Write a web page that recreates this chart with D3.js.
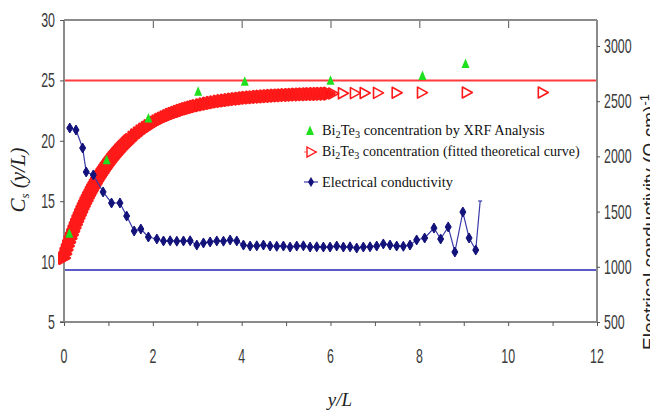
<!DOCTYPE html>
<html><head><meta charset="utf-8">
<script src="https://cdn.jsdelivr.net/npm/d3@7"></script>
<style>body{margin:0;background:#fff}</style>
</head><body>
<svg id="chart" width="650" height="412"></svg>
<script>
// ---------- data ----------
const xTickValues = [0, 2, 4, 6, 8, 10, 12];
const xMinorTickValues = [0, 1, 2, 3, 4, 5, 6, 7, 8, 9, 10, 11, 12];
const leftTickValues = [5, 10, 15, 20, 25, 30];
const rightTickValues = [500, 1000, 1500, 2000, 2500, 3000];

const xrfX = [0.12, 0.96, 1.90, 3.02, 4.07, 6.00, 8.07, 9.04];
const xrfY = [12.3, 18.4, 21.85, 24.06, 24.89, 24.98, 25.36, 26.36];

const fitX = [0.00, 0.03, 0.06, 0.09, 0.12, 0.15, 0.18, 0.21, 0.24, 0.27, 0.30, 0.33, 0.36, 0.39, 0.42, 0.45, 0.48,
  0.51, 0.54, 0.57, 0.60, 0.63, 0.66, 0.69, 0.72, 0.75, 0.78, 0.81, 0.84, 0.87, 0.90, 0.93, 0.96, 0.99,
  1.02, 1.05, 1.08, 1.11, 1.14, 1.17, 1.20, 1.23, 1.26, 1.29, 1.32, 1.35, 1.38, 1.41, 1.44, 1.47, 1.50,
  1.56, 1.62, 1.68, 1.74, 1.80, 1.86, 1.92, 1.98,
  2.04, 2.10, 2.16, 2.22, 2.28, 2.34, 2.40, 2.46, 2.52, 2.58, 2.64, 2.70, 2.76, 2.82, 2.88, 2.94, 3.00,
  3.08, 3.16, 3.24, 3.32, 3.40, 3.48, 3.56, 3.64, 3.72, 3.80, 3.88, 3.96, 4.04, 4.12, 4.20, 4.28, 4.36,
  4.44, 4.52, 4.60, 4.68, 4.76, 4.84, 4.92, 5.00, 5.08, 5.16, 5.24, 5.32, 5.40, 5.48, 5.56, 5.64, 5.72,
  5.80, 5.88, 5.96, 6.06, 6.28, 6.55, 6.77, 7.07, 7.49, 8.06, 9.07, 10.78];
const fitY = [10.30, 10.64, 10.97, 11.29, 11.60, 11.91, 12.21, 12.50, 12.78, 13.06, 13.33, 13.59, 13.85, 14.10, 14.35, 14.58, 14.82,
  15.04, 15.26, 15.48, 15.69, 15.90, 16.10, 16.29, 16.48, 16.67, 16.85, 17.02, 17.20, 17.36, 17.53, 17.69, 17.84, 18.00,
  18.14, 18.29, 18.43, 18.57, 18.70, 18.83, 18.96, 19.08, 19.21, 19.32, 19.44, 19.55, 19.66, 19.77, 19.87, 19.98, 20.07,
  20.27, 20.45, 20.62, 20.79, 20.94, 21.09, 21.23, 21.37,
  21.50, 21.62, 21.74, 21.85, 21.95, 22.05, 22.15, 22.24, 22.32, 22.40, 22.48, 22.56, 22.63, 22.69, 22.76, 22.82, 22.88,
  22.95, 23.02, 23.08, 23.14, 23.19, 23.25, 23.29, 23.34, 23.38, 23.42, 23.46, 23.49, 23.53, 23.56, 23.59, 23.61, 23.64,
  23.66, 23.68, 23.70, 23.72, 23.74, 23.76, 23.77, 23.79, 23.80, 23.81, 23.83, 23.84, 23.85, 23.86, 23.87, 23.88, 23.88,
  23.89, 23.90, 23.91, 23.92, 23.93, 23.95, 23.96, 23.97, 23.98, 23.99, 24.00, 24.00];

const condX = [0.13, 0.27, 0.42, 0.50, 0.66, 0.88, 1.07, 1.26, 1.41, 1.58, 1.73, 1.90, 2.09, 2.24, 2.39, 2.54, 2.69, 2.84,
  2.99, 3.14, 3.29, 3.44, 3.59, 3.74, 3.89, 4.04, 4.19, 4.34, 4.49, 4.64, 4.79, 4.94, 5.09, 5.24, 5.39, 5.54, 5.69, 5.84,
  5.99, 6.14, 6.29, 6.44, 6.59, 6.74, 6.89, 7.04, 7.19, 7.34, 7.49, 7.64, 7.79, 7.94, 8.12, 8.33, 8.48, 8.65, 8.80, 8.98,
  9.12, 9.27, 9.37];
const condY = [2257, 2239, 2076, 1859, 1832, 1678, 1578, 1578, 1460, 1324, 1342, 1270, 1252, 1234, 1236, 1232, 1234, 1236,
  1197, 1216, 1225, 1234, 1232, 1243, 1234, 1197, 1188, 1190, 1197, 1188, 1186, 1188, 1179, 1188, 1190, 1179, 1181, 1179,
  1179, 1188, 1179, 1181, 1170, 1179, 1181, 1188, 1207, 1197, 1188, 1186, 1197, 1243, 1261, 1351, 1252, 1361, 1134, 1496,
  1261, 1152, 1596];

const upperLineValue = 25;
const lowerLineValue = 9.3;

const legendLabels = [
  ["Bi", "2", "Te", "3", " concentration by XRF Analysis"],
  ["Bi", "2", "Te", "3", " concentration (fitted theoretical curve)"],
  ["Electrical conductivity"]
];

// ---------- chart ----------
const svg = d3.select("#chart");
const x = d3.scaleLinear().domain([0, 12]).range([64, 597]);
const yL = d3.scaleLinear().domain([5, 30]).range([322, 20]);
const yR = d3.scaleLinear().domain([500, 3000]).range([322, 46]);

const axisGray = "#8a8a8a";
const narrow = "'Liberation Sans', Arial, sans-serif";

// reference lines
svg.append("line").attr("x1", x(0)).attr("x2", x(12)).attr("y1", yL(upperLineValue)).attr("y2", yL(upperLineValue))
  .attr("stroke", "#ff3b3b").attr("stroke-width", 2);
svg.append("line").attr("x1", x(0)).attr("x2", x(12)).attr("y1", yL(lowerLineValue)).attr("y2", yL(lowerLineValue))
  .attr("stroke", "#5a5ac8").attr("stroke-width", 2);

// axes
const gB = svg.append("g").attr("transform", `translate(0,${yL(5)})`)
  .call(d3.axisBottom(x).tickValues(xMinorTickValues).tickSize(4).tickFormat(""));
const gT = svg.append("g").attr("transform", `translate(0,${yL(30)})`)
  .call(d3.axisBottom(x).tickValues(xTickValues).tickSize(8).tickFormat(""));
const gL = svg.append("g").attr("transform", `translate(${x(0)},0)`)
  .call(d3.axisLeft(yL).tickValues(leftTickValues).tickSize(4).tickFormat(""));
const gR = svg.append("g").attr("transform", `translate(${x(12)},0)`)
  .call(d3.axisRight(yR).tickValues(rightTickValues).tickSize(3).tickFormat(""));
[gB, gT, gL, gR].forEach(g => {
  g.select(".domain").attr("stroke", axisGray).attr("stroke-width", 2);
  g.selectAll(".tick line").attr("stroke", "#555").attr("stroke-width", 1);
});
gT.select(".domain").remove();
gR.select(".domain").attr("d", `M0,${yL(30)}V${yL(5)}`);
gL.select(".domain").attr("d", `M0,${yL(30)}V${yL(5)}`);
gB.select(".domain").attr("d", `M${x(0) - 4},0H${x(12)}`);
svg.append("line").attr("x1", x(0)).attr("x2", x(12)).attr("y1", yL(30)).attr("y2", yL(30))
  .attr("stroke", axisGray).attr("stroke-width", 2);

// tick labels (condensed look)
const sx = 0.62;
xTickValues.forEach(v => {
  svg.append("text").attr("transform", `translate(${x(v)},363) scale(${sx},1)`)
    .attr("text-anchor", "middle").attr("font-family", narrow).attr("font-size", 20).attr("fill", "#3a3a3a").text(v);
});
leftTickValues.forEach(v => {
  svg.append("text").attr("transform", `translate(55,${yL(v) + 7}) scale(${sx},1)`)
    .attr("text-anchor", "end").attr("font-family", narrow).attr("font-size", 20).attr("fill", "#3a3a3a").text(v);
});
rightTickValues.forEach(v => {
  svg.append("text").attr("transform", `translate(604,${yR(v) + 7}) scale(${sx},1)`)
    .attr("text-anchor", "start").attr("font-family", narrow).attr("font-size", 20).attr("fill", "#3a3a3a").text(v);
});

// fitted curve markers (right-pointing triangles; dense ones merge into a solid band)
const triRight = "M-4.5,-5.5L5.5,0L-4.5,5.5Z";
svg.append("g").selectAll("path").data(fitX.map((d, i) => [d, fitY[i]])).join("path")
  .attr("d", triRight).attr("transform", d => `translate(${x(d[0])},${yL(d[1])})`)
  .attr("fill", d => d[0] < 6 ? "#ff1010" : "none").attr("stroke", "#ff1a1a")
  .attr("stroke-width", d => d[0] < 6 ? 3 : 1.6).attr("stroke-linejoin", "round");

// conductivity line + markers
const condData = condX.map((d, i) => [d, condY[i]]);
svg.append("path").datum(condData)
  .attr("d", d3.line().x(d => x(d[0])).y(d => yR(d[1])))
  .attr("fill", "none").attr("stroke", "#3a3aa8").attr("stroke-width", 1.2);
const diamond = "M0,-5L3,0L0,5L-3,0Z";
svg.append("g").selectAll("path").data(condData.slice(0, -1)).join("path")
  .attr("d", diamond).attr("transform", d => `translate(${x(d[0])},${yR(d[1])})`)
  .attr("fill", "#12127a").attr("stroke", "#12127a").attr("stroke-width", 1);
const last = condData[condData.length - 1];
svg.append("line").attr("x1", x(last[0]) - 2).attr("x2", x(last[0]) + 2)
  .attr("y1", yR(last[1])).attr("y2", yR(last[1])).attr("stroke", "#3a3aa8").attr("stroke-width", 1.2);

// XRF green triangles
svg.append("g").selectAll("path").data(xrfX.map((d, i) => [d, xrfY[i]])).join("path")
  .attr("d", "M0,-5.5L4,4L-4,4Z").attr("transform", d => `translate(${x(d[0])},${yL(d[1])})`)
  .attr("fill", "#1ee01e");

// legend
function legendText(parts, lx, ly, target) {
  const t = svg.append("text").attr("x", 0).attr("y", 0).attr("font-family", "'Liberation Serif', 'Times New Roman', serif")
    .attr("font-size", 14).attr("fill", "#111");
  parts.forEach((p, i) => {
    const isSub = parts.length > 1 && (i === 1 || i === 3);
    t.append("tspan").attr("font-size", isSub ? 10 : 14).attr("dy", isSub ? 3 : (i > 0 ? -3 : 0)).text(p);
  });
  const w = t.node().getComputedTextLength();
  t.attr("transform", `translate(${lx},${ly}) scale(${target / w},1)`);
}
svg.append("path").attr("d", "M0,-5.5L4,4L-4,4Z").attr("transform", "translate(310,131)").attr("fill", "#1ee01e");
legendText(legendLabels[0], 322, 135, 223);
svg.append("line").attr("x1", 304).attr("x2", 318).attr("y1", 152).attr("y2", 152)
  .attr("stroke", "#ff6060").attr("stroke-width", 1.2).attr("stroke-dasharray", "3,2");
svg.append("path").attr("d", "M-4,-5L5,0L-4,5Z").attr("transform", "translate(311,152)").attr("fill", "#fff")
  .attr("stroke", "#ff1a1a").attr("stroke-width", 1.4);
legendText(legendLabels[1], 322, 156, 258);
svg.append("line").attr("x1", 304).attr("x2", 318).attr("y1", 182).attr("y2", 182)
  .attr("stroke", "#3a3aa8").attr("stroke-width", 1.2);
svg.append("path").attr("d", diamond).attr("transform", "translate(311,182)").attr("fill", "#12127a");
legendText(legendLabels[2], 322, 187, 131);

// axis titles
svg.append("text").attr("transform", "translate(340,406)").attr("text-anchor", "middle")
  .attr("font-family", "'Liberation Serif', serif").attr("font-style", "italic").attr("font-size", 19).attr("fill", "#222")
  .text("y/L");

const lt = svg.append("text").attr("font-family", "'Liberation Serif', serif").attr("font-style", "italic")
  .attr("font-size", 21).attr("fill", "#222").attr("text-anchor", "middle");
lt.append("tspan").text("C");
lt.append("tspan").attr("font-size", 13).attr("dy", 4).text("s");
lt.append("tspan").attr("dy", -4).text("  (y/L)");
lt.attr("transform", "translate(25,180) rotate(-90)");

const rt = svg.append("text").attr("font-family", "'Liberation Sans', Arial, sans-serif")
  .attr("font-size", 19).attr("fill", "#222").attr("text-anchor", "middle");
rt.append("tspan").text("Electrical  conductivity (Ω  cm)");
rt.append("tspan").attr("font-size", 13).attr("dy", -7).text("-1");
rt.attr("transform", "translate(656,222) rotate(-90)");
</script>
</body></html>
